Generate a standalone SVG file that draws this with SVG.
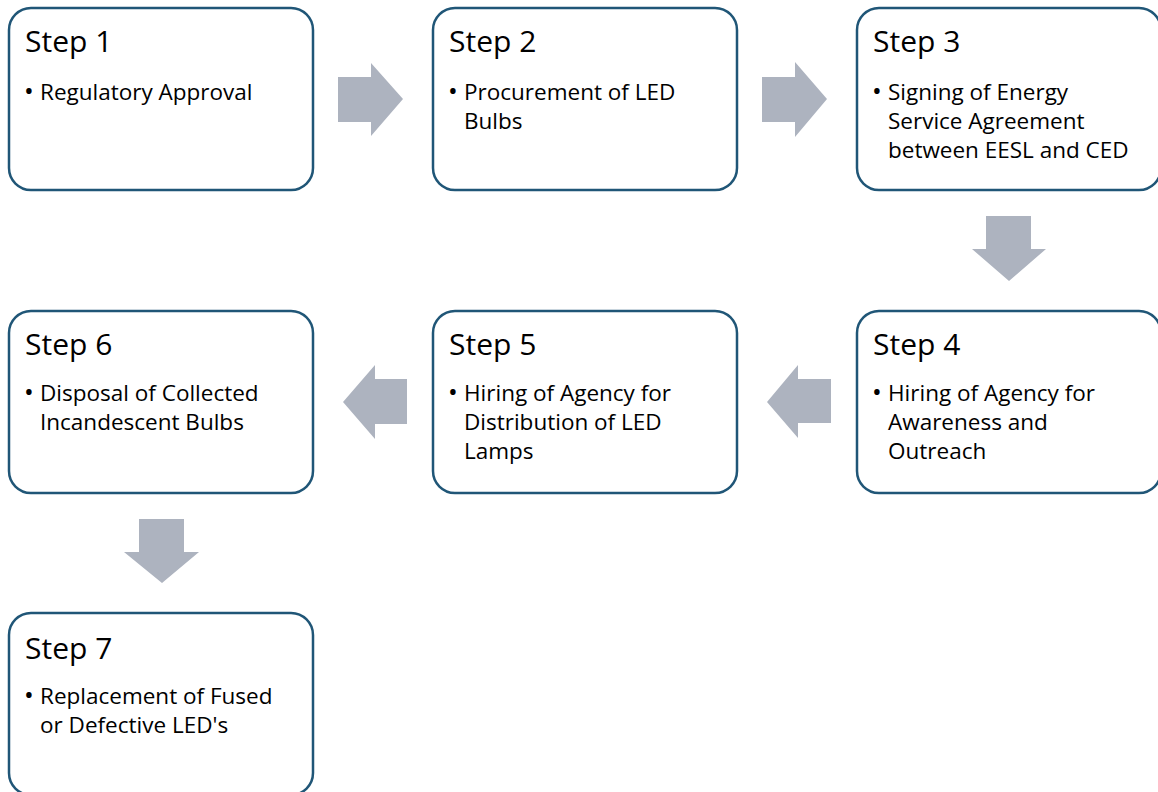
<svg xmlns="http://www.w3.org/2000/svg" width="1158" height="792" viewBox="0 0 1158 792">
<style>
.box{fill:#fff;stroke:#205677;stroke-width:2.5}
.arr{fill:#adb3bf}
.t{font-family:"Open Sans","Liberation Sans",sans-serif;fill:#000}
.h{font-size:30px}
.b{font-size:22.5px}
.d{font-size:26px}
</style>
<rect width="1158" height="792" fill="#fff"/>
<g id="connectors">
<polygon class="arr" points="338,77 371,77 371,63 403,99 371,136 371,122 338,122"/>
<polygon class="arr" points="762,77 795,77 795,62 827,99 795,137 795,122 762,122"/>
<polygon class="arr" points="986,216 1031,216 1031,249 1046,249 1009,281 972,249 986,249"/>
<polygon class="arr" points="831,379 798,379 798,365 767,402 798,438 798,423 831,423"/>
<polygon class="arr" points="407,379 375,379 375,365 343,402 375,439 375,424 407,424"/>
<polygon class="arr" points="139,519 184,519 184,552 199,552 162,583 124,552 139,552"/>
</g>
<g id="step1">
<rect class="box" x="9" y="8" width="304" height="182" rx="22"/>
<text class="t h" x="25" y="52">Step 1</text>
<text class="t b" y="100"><tspan class="d" x="24">•</tspan><tspan x="40">Regulatory Approval</tspan></text>
</g>
<g id="step2">
<rect class="box" x="433" y="8" width="304" height="182" rx="22"/>
<text class="t h" x="449" y="52">Step 2</text>
<text class="t b" y="100"><tspan class="d" x="448">•</tspan><tspan x="464">Procurement of LED</tspan><tspan x="464" y="129">Bulbs</tspan></text>
</g>
<g id="step3">
<rect class="box" x="857" y="8" width="304" height="182" rx="22"/>
<text class="t h" x="873" y="52">Step 3</text>
<text class="t b" y="100"><tspan class="d" x="872">•</tspan><tspan x="888">Signing of Energy</tspan><tspan x="888" y="129">Service Agreement</tspan><tspan x="888" y="158">between EESL and CED</tspan></text>
</g>
<g id="step4">
<rect class="box" x="857" y="311" width="304" height="182" rx="22"/>
<text class="t h" x="873" y="355">Step 4</text>
<text class="t b" y="401"><tspan class="d" x="872">•</tspan><tspan x="888">Hiring of Agency for</tspan><tspan x="888" y="430">Awareness and</tspan><tspan x="888" y="459">Outreach</tspan></text>
</g>
<g id="step5">
<rect class="box" x="433" y="311" width="304" height="182" rx="22"/>
<text class="t h" x="449" y="355">Step 5</text>
<text class="t b" y="401"><tspan class="d" x="448">•</tspan><tspan x="464">Hiring of Agency for</tspan><tspan x="464" y="430">Distribution of LED</tspan><tspan x="464" y="459">Lamps</tspan></text>
</g>
<g id="step6">
<rect class="box" x="9" y="311" width="304" height="182" rx="22"/>
<text class="t h" x="25" y="355">Step 6</text>
<text class="t b" y="401"><tspan class="d" x="24">•</tspan><tspan x="40">Disposal of Collected</tspan><tspan x="40" y="430">Incandescent Bulbs</tspan></text>
</g>
<g id="step7">
<rect class="box" x="9" y="613" width="304" height="182" rx="22"/>
<text class="t h" x="25" y="659">Step 7</text>
<text class="t b" y="704"><tspan class="d" x="24">•</tspan><tspan x="40">Replacement of Fused</tspan><tspan x="40" y="733">or Defective LED's</tspan></text>
</g>
</svg>
